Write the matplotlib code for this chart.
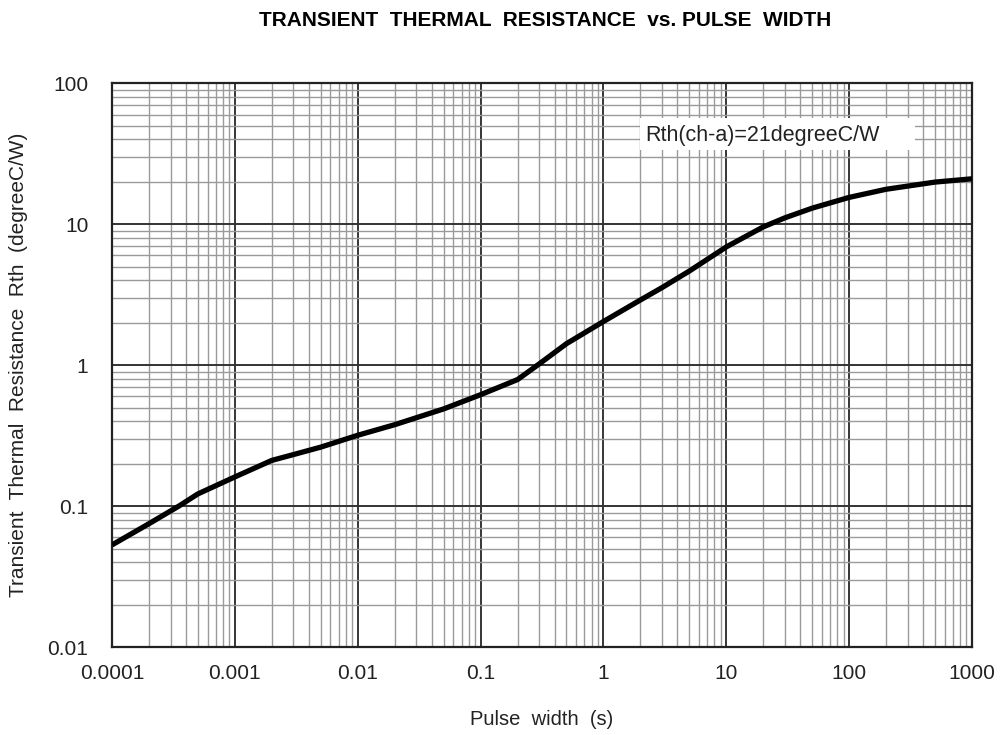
import numpy as np
import matplotlib.pyplot as plt
from matplotlib.patches import Rectangle
from matplotlib.ticker import LogLocator, FixedLocator, NullFormatter

# curve
pulse_width = [1e-4, 2e-4, 3.5e-4, 5e-4, 1e-3, 2e-3, 3e-3, 5e-3, 1e-2, 2e-2, 5e-2,
               0.1, 0.2, 0.3, 0.5, 1, 2, 3, 5, 10, 20, 30, 50, 100, 200, 500, 1000]
rth = [0.053, 0.075, 0.1, 0.122, 0.161, 0.211, 0.232, 0.262, 0.318, 0.378, 0.489,
       0.617, 0.79, 1.02, 1.42, 2.04, 2.90, 3.55, 4.65, 6.9, 9.57, 11.1, 13.0,
       15.5, 17.7, 19.9, 21.0]

x_ticks = [1e-4, 1e-3, 1e-2, 1e-1, 1, 10, 100, 1000]
x_labels = ['0.0001', '0.001', '0.01', '0.1', '1', '10', '100', '1000']
y_ticks = [0.01, 0.1, 1, 10, 100]
y_labels = ['0.01', '0.1', '1', '10', '100']

plt.rcParams['font.family'] = ['Liberation Sans', 'DejaVu Sans']

fig = plt.figure(figsize=(10, 7.35), dpi=100)
ax = fig.add_axes([0.112, 0.1197, 0.86, 0.767])

ax.set_xscale('log')
ax.set_yscale('log')
ax.set_xlim(1e-4, 1000)
ax.set_ylim(0.01, 100)

ax.xaxis.set_major_locator(FixedLocator(x_ticks))
ax.set_xticklabels(x_labels)
ax.yaxis.set_major_locator(FixedLocator(y_ticks))
ax.set_yticklabels(y_labels)
ax.xaxis.set_minor_locator(LogLocator(base=10, subs=np.arange(2, 10), numticks=20))
ax.yaxis.set_minor_locator(LogLocator(base=10, subs=np.arange(2, 10), numticks=20))
ax.xaxis.set_minor_formatter(NullFormatter())
ax.yaxis.set_minor_formatter(NullFormatter())

ax.grid(which='minor', color='#9a9a9a', linewidth=1.0)
ax.grid(which='major', axis='x', color='black', linewidth=1.1)
ax.grid(which='major', axis='y', color='#333333', linewidth=1.4)
ax.set_axisbelow(True)

ax.tick_params(which='both', length=0)
ax.tick_params(axis='x', pad=12, labelsize=15, labelcolor='#222222')
ax.tick_params(axis='y', pad=17, labelsize=15, labelcolor='#222222')
for s in ax.spines.values():
    s.set_linewidth(1.6)
    s.set_color('#222222')

ax.plot(pulse_width, rth, color='black', linewidth=3.8, solid_capstyle='butt',
        solid_joinstyle='round', zorder=3)

# white label box
ax.add_patch(Rectangle((0.614, 0.881), 0.32, 0.057, transform=ax.transAxes,
                       facecolor='white', edgecolor='none', zorder=2))
ax.text(0.62, 0.908, 'Rth(ch-a)=21degreeC/W', transform=ax.transAxes,
        fontsize=15.5, color='#222222', va='center', ha='left', zorder=4)

fig.text(0.5455, 0.972, 'TRANSIENT  THERMAL  RESISTANCE  vs. PULSE  WIDTH',
         ha='center', va='center', fontsize=15, fontweight='bold')
ax.set_xlabel('Pulse  width  (s)', fontsize=14.5, color='#222222', labelpad=20)
ax.set_ylabel('Transient  Thermal  Resistance  Rth  (degreeC/W)', fontsize=15,
              color='#222222', labelpad=14)

fig.savefig('out.png', dpi=100)
